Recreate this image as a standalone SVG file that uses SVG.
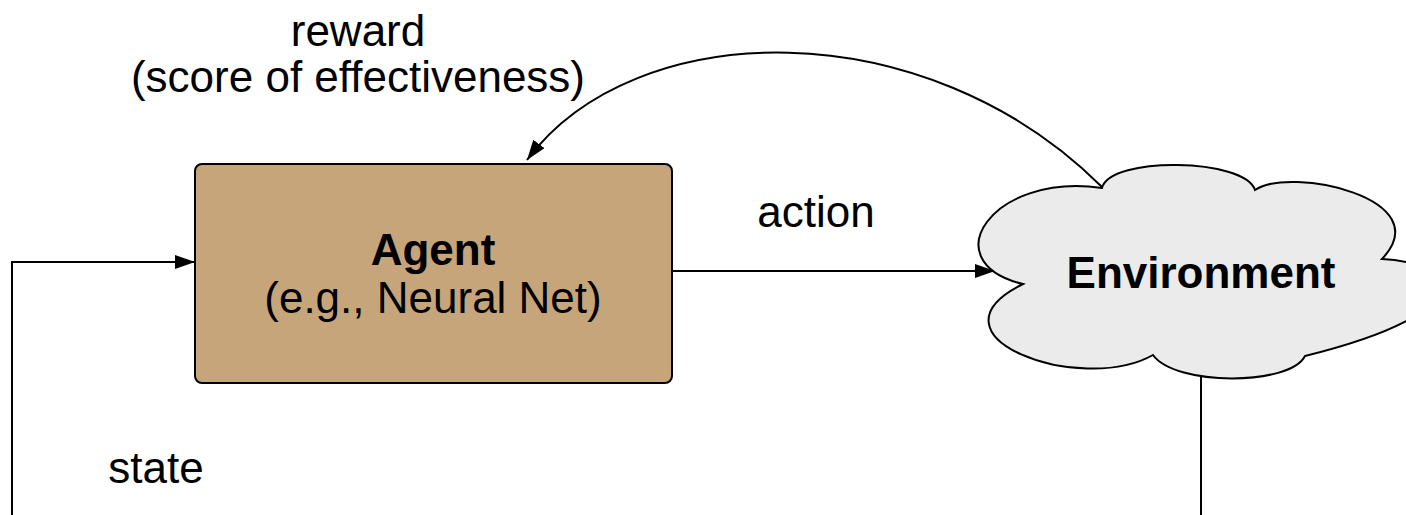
<svg xmlns="http://www.w3.org/2000/svg" width="1406" height="515" viewBox="0 0 1406 515">
  <defs>
    <style>
      .lbl { font-family: "Liberation Sans", Arial, Helvetica, sans-serif; font-size: 44px; fill: #000; }
      .bold { font-weight: bold; }
      .edge { fill: none; stroke: #000; stroke-width: 2; }
      .shape { stroke: #000; stroke-width: 2; }
    </style>
    <marker id="arrow" markerUnits="userSpaceOnUse" markerWidth="21" markerHeight="15" refX="20" refY="7" orient="auto">
      <path d="M0,0 L20,7 L0,14 Z" fill="#000"/>
    </marker>
  </defs>

  <rect width="1406" height="515" fill="#fff"/>

  <!-- connectors -->
  <g id="connectors">
    <!-- action: agent -> environment -->
    <path class="edge" d="M672,271 H995" marker-end="url(#arrow)"/>
    <!-- state: environment -> agent (loops below the frame) -->
    <path class="edge" d="M1201,377 V540 H12 V262 H195" marker-end="url(#arrow)"/>
    <!-- reward: environment -> agent -->
    <path class="edge" d="M1102,187 C925,10 635,15 527,160" marker-end="url(#arrow)"/>
  </g>

  <!-- agent -->
  <g id="agent">
    <rect class="shape" x="195" y="164" width="477" height="219" rx="7" ry="7" fill="#C6A57B"/>
    <text class="lbl bold" x="433" y="265" text-anchor="middle">Agent</text>
    <text class="lbl" x="433" y="313" text-anchor="middle">(e.g., Neural Net)</text>
  </g>

  <!-- environment -->
  <g id="environment">
    <path class="shape" fill="#EBEBEB" d="M1102,188
      C1110,156 1245,158 1255,190
      C1290,166 1440,198 1382,259
      C1450,262 1490,310 1305,356
      C1290,386 1175,386 1153,355
      C1080,396 918,336 1023,284
      C932,262 992,172 1102,188 Z"/>
    <text class="lbl bold" x="1201" y="288" text-anchor="middle">Environment</text>
  </g>

  <!-- edge labels -->
  <g id="labels">
    <text class="lbl" x="358" y="46" text-anchor="middle">reward</text>
    <text class="lbl" x="358" y="92" text-anchor="middle">(score of effectiveness)</text>
    <text class="lbl" x="816" y="227" text-anchor="middle">action</text>
    <text class="lbl" x="156" y="483" text-anchor="middle">state</text>
  </g>
</svg>
